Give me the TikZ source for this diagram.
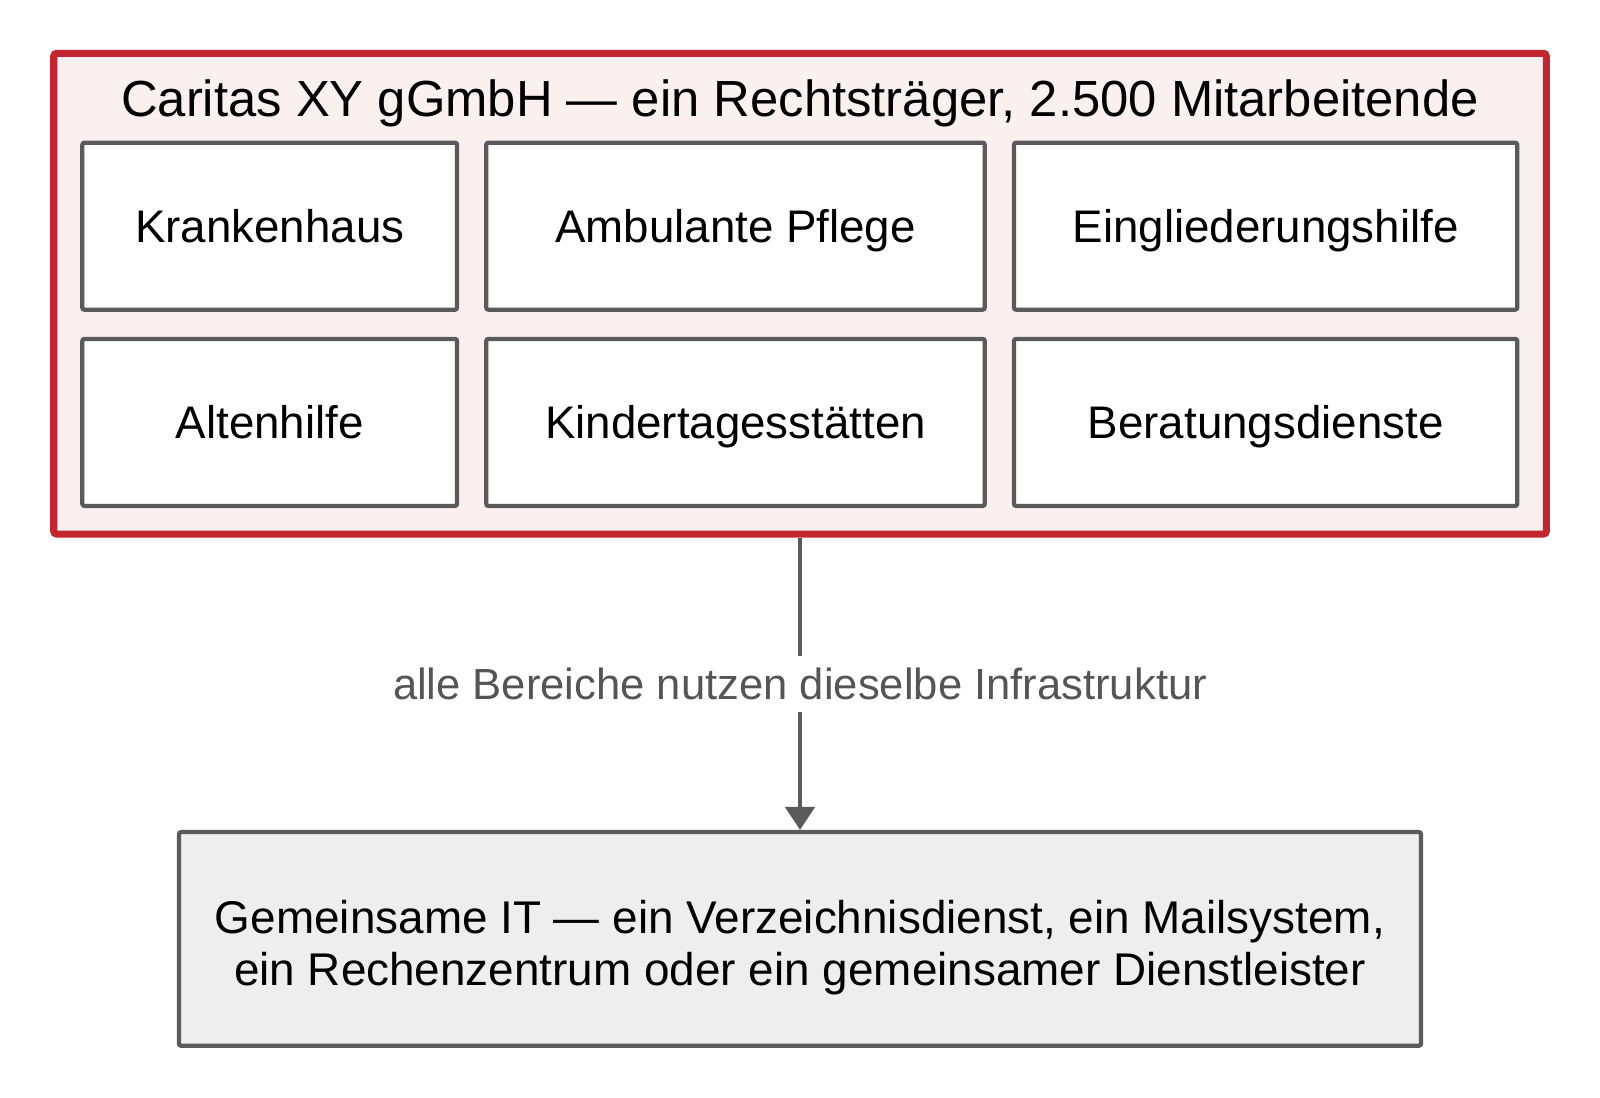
\documentclass[tikz,border=0pt]{standalone}
\usepackage{fontspec}
\setmainfont{Liberation Sans}
\usetikzlibrary{positioning}
\usetikzlibrary{arrows.meta}
\tikzset{>={Triangle[width=2.9mm,length=2.3mm]}}
\definecolor{caritasred}{HTML}{C4262F}
\definecolor{caritasfill}{HTML}{FBF0F0}
\definecolor{boxgray}{HTML}{5A5A5A}
\definecolor{notegray}{HTML}{555555}
\definecolor{itfill}{HTML}{EEEEEE}

\begin{document}
\begin{tikzpicture}[ frame/.style={rectangle, draw=caritasred, fill=caritasfill, line width=2pt, rounded corners=0.8pt, minimum width=14.925cm, minimum height=4.807cm},
    area/.style={rectangle, draw=boxgray, fill=white, line width=1.2pt, rounded corners=0.6pt, minimum height=1.67cm, text height=0.33cm, text depth=0cm, font=\fontsize{13pt}{15pt}\selectfont},
    itbox/.style={rectangle, draw=boxgray, fill=itfill, line width=1.2pt, rounded corners=0.6pt, minimum width=12.42cm, minimum height=2.137cm, align=center, text height=0.93cm, text depth=0cm, font=\fontsize{13.05pt}{14.7pt}\selectfont},
    title/.style={inner sep=0pt, font=\fontsize{14.45pt}{17pt}\selectfont},
    note/.style={fill=white, text=notegray, inner xsep=0.1cm, inner ysep=0.12cm, font=\fontsize{12.4pt}{14pt}\selectfont} ]

    \useasboundingbox (0,0) rectangle (16,-10.97);

    %Nodes
    \node[frame] (org) at (8,-2.937) {};
    \node[title, anchor=base] (org_title) at (8,-1.167) {Caritas XY gGmbH — ein Rechtsträger, 2.500 Mitarbeitende};
    \node[area, minimum width=3.747cm] (krankenhaus) at (2.697,-2.262) {Krankenhaus};
    \node[area, minimum width=4.985cm] (ambulant) [right=0.25cm of krankenhaus] {Ambulante Pflege};
    \node[area, minimum width=5.033cm] (eingliederung) [right=0.25cm of ambulant] {Eingliederungshilfe};
    \node[area, minimum width=3.747cm] (altenhilfe) [below=0.25cm of krankenhaus] {Altenhilfe};
    \node[area, minimum width=4.985cm] (kita) [below=0.25cm of ambulant] {Kindertagesstätten};
    \node[area, minimum width=5.033cm] (beratung) [below=0.25cm of eingliederung] {Beratungsdienste};
    \node[itbox] (it) at (8,-9.389) {Gemeinsame IT — ein Verzeichnisdienst, ein Mailsystem,\\ein Rechenzentrum oder ein gemeinsamer Dienstleister};

    %Lines
    \draw[->, draw=boxgray, fill=boxgray, line width=1.3pt] (org.south) -- node[note] (shared_note) {alle Bereiche nutzen dieselbe Infrastruktur} (it.north);
\end{tikzpicture}
\end{document}
